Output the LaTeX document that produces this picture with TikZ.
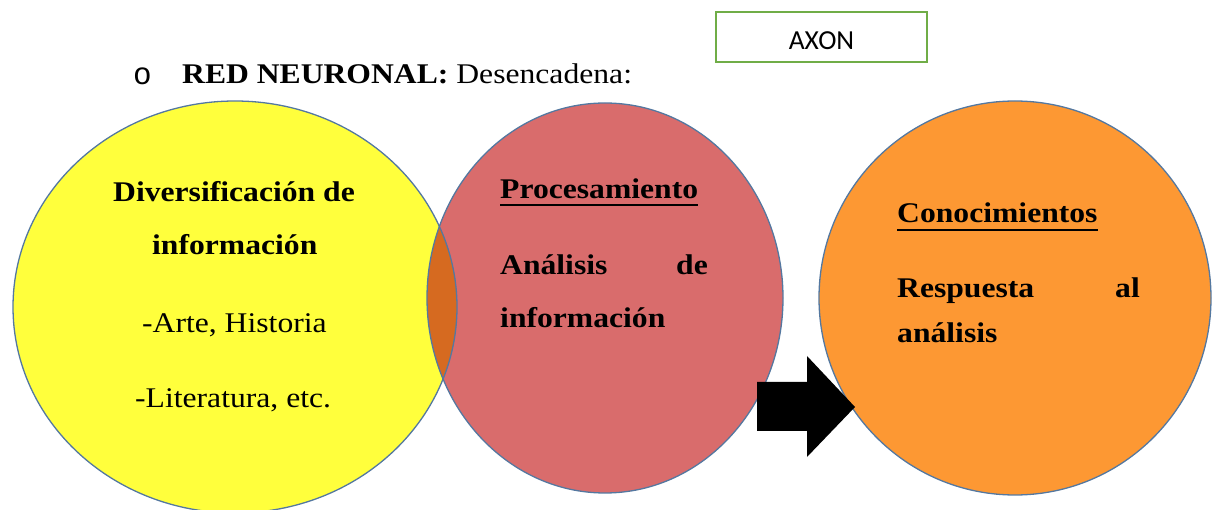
\documentclass[tikz,border=0pt]{standalone}
\usepackage{fontspec}
\setmainfont{Liberation Serif}[FakeStretch=1.11]
\newfontfamily\calib{Carlito}
\newfontfamily\monof{Liberation Mono}
\definecolor{yel}{RGB}{255,255,60}
\definecolor{redc}{RGB}{217,108,108}
\definecolor{orc}{RGB}{253,152,51}
\definecolor{lens}{RGB}{214,106,32}
\definecolor{edge}{RGB}{84,120,160}
\definecolor{axg}{RGB}{112,173,71}
\tikzset{
  txt/.style={inner sep=0pt, anchor=base west, font=\fontsize{28.5}{30}\selectfont},
  btxt/.style={txt, font=\fontsize{28.5}{30}\selectfont\bfseries},
  rim/.style={draw=edge, line width=1.3pt},
}
\begin{document}
\begin{tikzpicture}[x=1pt,y=-1pt]
\useasboundingbox (0,0) rectangle (1213,510);
% ellipses
\fill[yel] (235,307) ellipse[x radius=222, y radius=206];
\fill[redc] (605,298) ellipse[x radius=178, y radius=195];
\begin{scope}
  \clip (605,298) ellipse[x radius=178, y radius=195];
  \fill[lens] (235,307) ellipse[x radius=222, y radius=206];
\end{scope}
\draw[rim] (235,307) ellipse[x radius=222, y radius=206];
\draw[rim] (605,298) ellipse[x radius=178, y radius=195];
\fill[orc] (1015,298) ellipse[x radius=196, y radius=197];
\draw[rim] (1015,298) ellipse[x radius=196, y radius=197];
% block arrow
\fill[black] (757,382) -- (807,382) -- (807,356) -- (855,407) -- (807,457) -- (807,431) -- (757,431) -- cycle;
% AXON box
\node[draw=axg, line width=2.5pt, minimum width=211pt, minimum height=50pt, inner sep=0pt] (axbox) at (821.5,37) {};
\node[inner sep=0pt, anchor=base, font=\calib\fontsize{27.5}{28}\selectfont] (axon) at (821.5,50) {AXON};
% heading
\node[inner sep=0pt, anchor=base, font=\monof\fontsize{31}{32}\selectfont] (bul) at (142.5,85) {o};
\node[txt] (head) at (182,84) {{\bfseries RED NEURONAL:} Desencadena:};
% yellow texts
\node[btxt] (div1) at (113,202) {Diversificación de};
\node[btxt] (div2) at (152,255) {información};
\node[txt] (arte) at (142,333) {-Arte, Historia};
\node[txt] (lit) at (135,408) {-Literatura, etc.};
% red texts
\node[btxt] (proc) at (500,199) {Procesamiento};
\draw[line width=2pt] ([yshift=-6]proc.base west) -- ([yshift=-6]proc.base east);
\node[btxt] (anal) at (500,275) {Análisis};
\node[btxt, anchor=base east] (de) at (708,275) {de};
\node[btxt] (info) at (500,328) {información};
% orange texts
\node[btxt] (cono) at (897,223) {Conocimientos};
\draw[line width=2pt] ([yshift=-7]cono.base west) -- ([yshift=-7]cono.base east);
\node[btxt] (resp) at (897,298) {Respuesta};
\node[btxt, anchor=base east] (al) at (1140,298) {al};
\node[btxt] (analis) at (897,343) {análisis};
\end{tikzpicture}
\end{document}
